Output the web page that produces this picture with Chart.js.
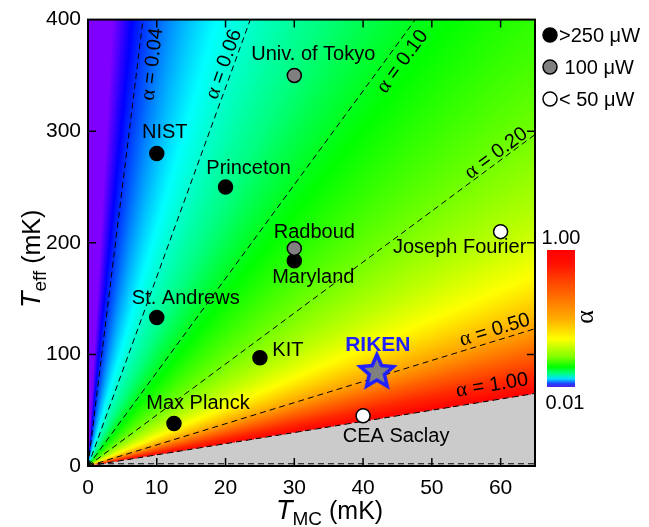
<!DOCTYPE html>
<html>
<head>
<meta charset="utf-8">
<script src="https://cdn.jsdelivr.net/npm/chart.js@4.4.0/dist/chart.umd.min.js"></script>
<style>
  html, body { margin: 0; padding: 0; background: #fff; }
</style>
</head>
<body>
<canvas id="chart" width="649" height="527"></canvas>
<script>
// groups
const labs = ['NIST', 'Princeton', 'Univ. of Tokyo', 'Radboud', 'Maryland', 'St. Andrews', 'KIT', 'Max Planck', 'CEA Saclay', 'Joseph Fourier'];
const tMC = [10, 20, 30, 30, 30, 10, 25, 12.5, 40, 60];
const tEff = [280, 250, 350, 195, 184, 133, 97, 38, 45, 210];
const power = ['>250', '>250', '100', '100', '>250', '>250', '>250', '>250', '<50', '<50'];

const rikenName = 'RIKEN';
const rikenMC = [42];
const rikenEff = [86];

// iso-alpha dashed lines, from origin to where they leave the frame
const alphaLabels = ['0.04', '0.06', '0.10', '0.20', '0.50', '1.00'];
const alphaEndMC = [8, 23.6, 47.6, 65, 65, 65];
const alphaEndEff = [400, 400, 400, 297, 123, 65];
const baseLineEff = 2;

const xTicks = [0, 10, 20, 30, 40, 50, 60];
const yTicks = [0, 100, 200, 300, 400];
const legendKeys = ['>250', '100', '<50'];
const legendTexts = ['>250 \u03bcW', ' 100 \u03bcW', '< 50 \u03bcW'];
const cbarTicks = ['1.00', '0.01'];

// styling
const fillOf = { '>250': '#000000', '100': '#808080', '<50': '#ffffff' };
const SANS = '"Liberation Sans", Arial, sans-serif';
const SERIF = '"Liberation Serif", "Times New Roman", serif';
const labelOffsets = [[8, -21], [23, -19], [19, -21], [20, -16], [19, 17], [29, -19], [28, -7], [24, -20], [33, 21], [-41, 16]];
const rikenOffset = [1, -25];
const alphaPlace = [[0.9, 15, 0], [0.9, -10, 0], [0.906, 18, 0], [0.913, 0, -10], [0.91, 0, -11], [0.904, 0, -15]];

const heatStops = [
  [0.0001, '#8000ff'], [0.009, '#8000ff'], [0.012, '#4800ff'], [0.016, '#0000ff'],
  [0.025, '#0060ff'], [0.047, '#00ffff'], [0.063, '#00ffc0'], [0.085, '#00ff80'],
  [0.1, '#00ff50'], [0.132, '#00ff00'], [0.2, '#60ff00'], [0.3, '#c0ff00'],
  [0.38, '#ffff00'], [0.46, '#ffc800'], [0.53, '#ffa000'], [0.65, '#ff6000'],
  [0.8, '#ff2800'], [1.0, '#ff0000']
];
const cbarStops = [
  [0, '#5020e0'], [0.024, '#2040ff'], [0.06, '#00e0ff'], [0.1, '#00ff80'],
  [0.146, '#00ff00'], [0.22, '#80ff00'], [0.35, '#ffff00'], [0.49, '#ffb000'],
  [0.61, '#ff8000'], [0.78, '#ff4000'], [0.9, '#ff1000'], [1, '#ff0000']
];

function hexRgb(h) {
  return [parseInt(h.slice(1, 3), 16), parseInt(h.slice(3, 5), 16), parseInt(h.slice(5, 7), 16)];
}
const heatLog = heatStops.map(s => [Math.log10(s[0]), hexRgb(s[1])]);
const GRAY = [203, 203, 203];

function colorFor(r) {
  if (!(r >= 0) || r > 1) return GRAY;
  const lr = Math.log10(Math.max(r, 1e-4));
  if (lr <= heatLog[0][0]) return heatLog[0][1];
  for (let i = 1; i < heatLog.length; i++) {
    if (lr <= heatLog[i][0]) {
      const a = heatLog[i - 1], b = heatLog[i];
      const t = (lr - a[0]) / (b[0] - a[0]);
      return [0, 1, 2].map(k => Math.round(a[1][k] + (b[1][k] - a[1][k]) * t));
    }
  }
  return heatLog[heatLog.length - 1][1];
}

const heatPlugin = {
  id: 'heat',
  beforeDatasetsDraw(chart) {
    const { ctx, chartArea: a, scales: { x, y } } = chart;
    const w = Math.round(a.right - a.left), h = Math.round(a.bottom - a.top);
    const off = document.createElement('canvas');
    off.width = w; off.height = h;
    const octx = off.getContext('2d');
    const img = octx.createImageData(w, h);
    for (let j = 0; j < h; j++) {
      const yv = y.getValueForPixel(a.top + j + 0.5);
      for (let i = 0; i < w; i++) {
        const xv = x.getValueForPixel(a.left + i + 0.5);
        const c = colorFor(xv / yv);
        const k = (j * w + i) * 4;
        img.data[k] = c[0]; img.data[k + 1] = c[1]; img.data[k + 2] = c[2]; img.data[k + 3] = 255;
      }
    }
    octx.putImageData(img, 0, 0);
    ctx.drawImage(off, a.left, a.top);
  }
};

function drawMixed(ctx, parts, cx, cy) {
  // parts: [text, font]
  let total = 0;
  parts.forEach(p => { ctx.font = p[1]; total += ctx.measureText(p[0]).width; });
  let xx = cx - total / 2;
  ctx.textAlign = 'left';
  ctx.textBaseline = 'middle';
  parts.forEach(p => { ctx.font = p[1]; ctx.fillText(p[0], xx, cy); xx += ctx.measureText(p[0]).width; });
}

const annotPlugin = {
  id: 'annot',
  afterDatasetsDraw(chart) {
    const { ctx, chartArea: a, scales: { x, y } } = chart;
    ctx.save();
    ctx.fillStyle = '#000';

    // alpha labels along the dashed lines
    const x0 = x.getPixelForValue(0), y0 = y.getPixelForValue(0);
    alphaLabels.forEach((lab, i) => {
      const x1 = x.getPixelForValue(alphaEndMC[i]), y1 = y.getPixelForValue(alphaEndEff[i]);
      const [t, dx, dy] = alphaPlace[i];
      const px = x0 + (x1 - x0) * t + dx, py = y0 + (y1 - y0) * t + dy;
      ctx.save();
      ctx.translate(px, py);
      ctx.rotate(Math.atan2(y1 - y0, x1 - x0));
      drawMixed(ctx, [['\u03b1', '21px ' + SERIF], [' = ' + lab, '20px ' + SANS]], 0, 0);
      ctx.restore();
    });

    // point names
    ctx.font = '20px ' + SANS;
    ctx.textAlign = 'center';
    ctx.textBaseline = 'middle';
    labs.forEach((n, i) => {
      const px = x.getPixelForValue(tMC[i]), py = y.getPixelForValue(tEff[i]);
      ctx.fillText(n, px + labelOffsets[i][0], py + labelOffsets[i][1]);
    });
    ctx.font = 'bold 21px ' + SANS;
    ctx.fillStyle = '#1f1fff';
    ctx.fillText(rikenName, x.getPixelForValue(rikenMC[0]) + rikenOffset[0], y.getPixelForValue(rikenEff[0]) + rikenOffset[1]);
    ctx.restore();
  },
  afterDraw(chart) {
    const { ctx, chartArea: a, scales: { x, y } } = chart;
    ctx.save();
    // frame
    ctx.strokeStyle = '#000';
    ctx.lineWidth = 2;
    ctx.strokeRect(a.left, a.top, a.right - a.left, a.bottom - a.top);
    // inward ticks on all sides
    ctx.lineWidth = 1.5;
    ctx.beginPath();
    x.ticks.forEach(tk => {
      if (tk.value <= 0) return;
      const px = x.getPixelForValue(tk.value);
      ctx.moveTo(px, a.bottom); ctx.lineTo(px, a.bottom - 8);
      ctx.moveTo(px, a.top); ctx.lineTo(px, a.top + 8);
    });
    y.ticks.forEach(tk => {
      if (tk.value <= 0 || tk.value >= 400) return;
      const py = y.getPixelForValue(tk.value);
      ctx.moveTo(a.left, py); ctx.lineTo(a.left + 8, py);
      ctx.moveTo(a.right, py); ctx.lineTo(a.right - 8, py);
    });
    ctx.stroke();

    // axis titles
    ctx.fillStyle = '#000';
    ctx.textAlign = 'left';
    ctx.textBaseline = 'alphabetic';
    let xx = 276;
    ctx.font = 'italic 27px ' + SANS; ctx.fillText('T', xx, 519); xx += ctx.measureText('T').width;
    ctx.font = '19px ' + SANS; ctx.fillText('MC', xx, 525); xx += ctx.measureText('MC').width;
    ctx.font = '25px ' + SANS; ctx.fillText(' (mK)', xx, 519);

    ctx.save();
    ctx.translate(40, 308);
    ctx.rotate(-Math.PI / 2);
    xx = 0;
    ctx.font = 'italic 27px ' + SANS; ctx.fillText('T', xx, 0); xx += ctx.measureText('T').width;
    ctx.font = '19px ' + SANS; ctx.fillText('eff', xx, 6); xx += ctx.measureText('eff').width;
    ctx.font = '25px ' + SANS; ctx.fillText(' (mK)', xx, 0);
    ctx.restore();

    // legend
    const ly = [35, 67, 99];
    legendKeys.forEach((k, i) => {
      ctx.beginPath();
      ctx.arc(550, ly[i], 7, 0, Math.PI * 2);
      ctx.fillStyle = fillOf[k];
      ctx.fill();
      ctx.lineWidth = 1.5;
      ctx.strokeStyle = '#000';
      ctx.stroke();
      ctx.fillStyle = '#000';
      ctx.font = '20px ' + SANS;
      ctx.textBaseline = 'middle';
      ctx.fillText(legendTexts[i], 559, ly[i] + 1);
    });

    // colour bar
    const cb = { l: 547, r: 575, t: 250, b: 387 };
    const g = ctx.createLinearGradient(0, cb.b, 0, cb.t);
    cbarStops.forEach(s => g.addColorStop(s[0], s[1]));
    ctx.fillStyle = g;
    ctx.fillRect(cb.l, cb.t, cb.r - cb.l, cb.b - cb.t);
    ctx.fillStyle = '#000';
    ctx.font = '20px ' + SANS;
    ctx.textAlign = 'center';
    ctx.textBaseline = 'middle';
    ctx.fillText(cbarTicks[0], 561, 238);
    ctx.fillText(cbarTicks[1], 565, 403);
    ctx.save();
    ctx.translate(586, 317);
    ctx.rotate(-Math.PI / 2);
    ctx.font = '26px ' + SERIF;
    ctx.fillText('\u03b1', 0, 0);
    ctx.restore();
    ctx.restore();
  }
};

// star marker image
const star = document.createElement('canvas');
star.width = 48; star.height = 48;
(function () {
  const s = star.getContext('2d');
  s.beginPath();
  for (let i = 0; i < 10; i++) {
    const rr = i % 2 === 0 ? 17.5 : 8;
    const ang = -Math.PI / 2 + i * Math.PI / 5;
    const px = 24 + rr * Math.cos(ang), py = 26 + rr * Math.sin(ang);
    if (i === 0) s.moveTo(px, py); else s.lineTo(px, py);
  }
  s.closePath();
  s.fillStyle = '#808080';
  s.fill();
  s.lineWidth = 3.5;
  s.lineJoin = 'miter';
  s.strokeStyle = '#1f1fff';
  s.stroke();
})();

function groupData(key) {
  const out = [];
  labs.forEach((n, i) => { if (power[i] === key) out.push({ x: tMC[i], y: tEff[i] }); });
  return out;
}

const datasets = [];
alphaLabels.forEach((lab, i) => {
  datasets.push({
    data: [{ x: 0, y: 0 }, { x: alphaEndMC[i], y: alphaEndEff[i] }],
    showLine: true, borderColor: '#000', borderWidth: 1, borderDash: [6, 4],
    pointRadius: 0, order: 10
  });
});
datasets.push({
  data: [{ x: 0, y: baseLineEff }, { x: 65, y: baseLineEff }],
  showLine: true, borderColor: '#000', borderWidth: 1, borderDash: [6, 4],
  pointRadius: 0, order: 10
});
datasets.push({ data: groupData('>250'), backgroundColor: fillOf['>250'], borderColor: '#000', borderWidth: 1.5, pointRadius: 7, order: 4 });
datasets.push({ data: groupData('100'), backgroundColor: fillOf['100'], borderColor: '#000', borderWidth: 1.5, pointRadius: 7, order: 3 });
datasets.push({ data: groupData('<50'), backgroundColor: fillOf['<50'], borderColor: '#000', borderWidth: 1.5, pointRadius: 7, order: 3 });
datasets.push({ data: [{ x: rikenMC[0], y: rikenEff[0] }], pointStyle: star, pointRadius: 18, order: 1 });

new Chart(document.getElementById('chart'), {
  type: 'scatter',
  data: { datasets: datasets },
  options: {
    responsive: false,
    animation: false,
    devicePixelRatio: 1,
    layout: { padding: { left: 0, top: 18, right: 114, bottom: 0 } },
    plugins: { legend: { display: false }, tooltip: { enabled: false } },
    scales: {
      x: {
        type: 'linear', min: 0, max: 65,
        afterBuildTicks: s => { s.ticks = xTicks.map(v => ({ value: v })); },
        ticks: { autoSkip: false, maxRotation: 0, color: '#000', font: { family: SANS, size: 21 }, padding: 10 },
        grid: { display: false, drawTicks: false },
        border: { display: false },
        afterFit: s => { s.height = 61; }
      },
      y: {
        type: 'linear', min: 0, max: 400,
        afterBuildTicks: s => { s.ticks = yTicks.map(v => ({ value: v })); },
        ticks: { autoSkip: false, color: '#000', font: { family: SANS, size: 21 }, padding: 7 },
        grid: { display: false, drawTicks: false },
        border: { display: false },
        afterFit: s => { s.width = 88; }
      }
    }
  },
  plugins: [heatPlugin, annotPlugin]
});
</script>
</body>
</html>
